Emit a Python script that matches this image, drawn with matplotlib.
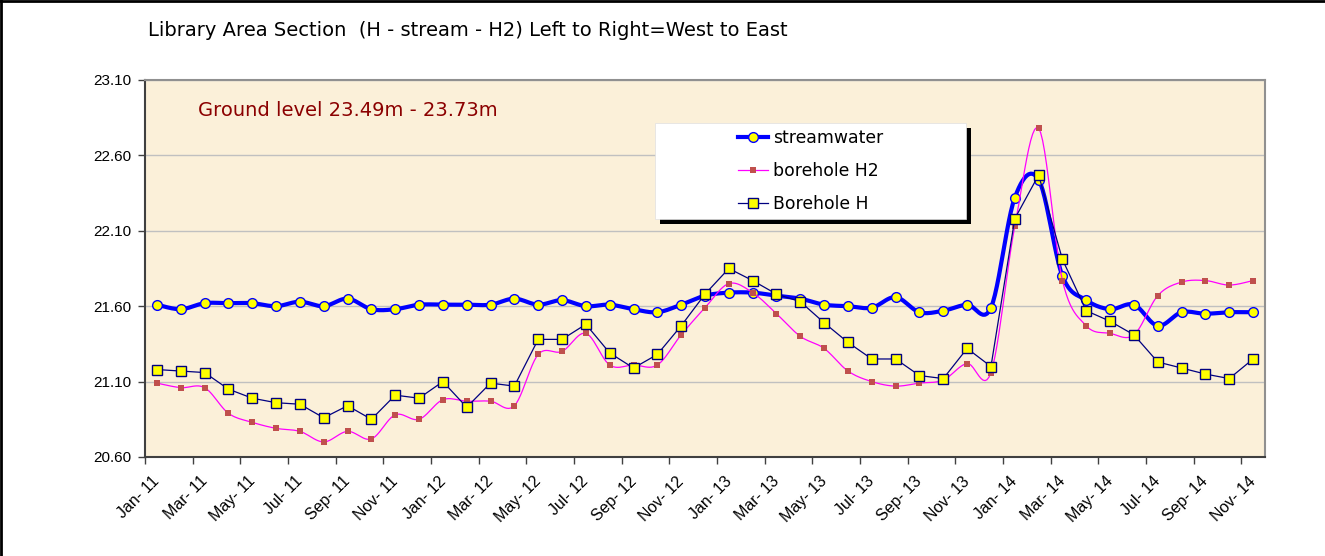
import numpy as np
import matplotlib
matplotlib.use('Agg')
import matplotlib.pyplot as plt
import matplotlib.transforms as mtransforms
from matplotlib.patches import Rectangle
from matplotlib.lines import Line2D

# monthly readings Jan-11 .. Nov-14
stream = [21.61, 21.58, 21.62, 21.62, 21.62, 21.60, 21.63, 21.60, 21.65, 21.58,
          21.58, 21.61, 21.61, 21.61, 21.61, 21.65, 21.61, 21.64, 21.60, 21.61,
          21.58, 21.56, 21.61, 21.67, 21.69, 21.69, 21.67, 21.65, 21.61, 21.60,
          21.59, 21.66, 21.56, 21.57, 21.61, 21.59, 22.32, 22.44, 21.80, 21.64,
          21.58, 21.61, 21.47, 21.56, 21.55, 21.56, 21.56]
bh_h2 = [21.09, 21.06, 21.06, 20.89, 20.83, 20.79, 20.77, 20.70, 20.77, 20.72,
         20.88, 20.85, 20.98, 20.97, 20.97, 20.94, 21.28, 21.30, 21.42, 21.21,
         21.21, 21.21, 21.41, 21.59, 21.75, 21.69, 21.55, 21.40, 21.32, 21.17,
         21.10, 21.07, 21.09, 21.11, 21.22, 21.16, 22.13, 22.78, 21.77, 21.47,
         21.42, 21.41, 21.67, 21.76, 21.77, 21.74, 21.77]
bh_h = [21.18, 21.17, 21.16, 21.05, 20.99, 20.96, 20.95, 20.86, 20.94, 20.85,
        21.01, 20.99, 21.10, 20.93, 21.09, 21.07, 21.38, 21.38, 21.48, 21.29,
        21.19, 21.28, 21.47, 21.68, 21.85, 21.77, 21.68, 21.63, 21.49, 21.36,
        21.25, 21.25, 21.14, 21.12, 21.32, 21.20, 22.18, 22.47, 21.91, 21.57,
        21.50, 21.41, 21.23, 21.19, 21.15, 21.12, 21.25]

tick_labels = ['Jan- 11', 'Mar- 11', 'May- 11', 'Jul- 11', 'Sep- 11', 'Nov- 11',
               'Jan- 12', 'Mar- 12', 'May- 12', 'Jul- 12', 'Sep- 12', 'Nov- 12',
               'Jan- 13', 'Mar- 13', 'May- 13', 'Jul- 13', 'Sep- 13', 'Nov- 13',
               'Jan- 14', 'Mar- 14', 'May- 14', 'Jul- 14', 'Sep- 14', 'Nov- 14']
yticks = [20.60, 21.10, 21.60, 22.10, 22.60, 23.10]


def smooth(y, n=12):
    # bezier through the points, like excel's "smoothed line"
    pts = np.column_stack([np.arange(len(y), dtype=float), np.asarray(y, float)])
    p = np.vstack([pts[0], pts, pts[-1]])
    t = np.linspace(0, 1, n, endpoint=False)[:, None]
    out = []
    for i in range(1, len(p) - 2):
        p0, p1, p2, p3 = p[i - 1], p[i], p[i + 1], p[i + 2]
        c1 = p1 + (p2 - p0) / 6
        c2 = p2 - (p3 - p1) / 6
        out.append((1 - t) ** 3 * p1 + 3 * (1 - t) ** 2 * t * c1
                   + 3 * (1 - t) * t ** 2 * c2 + t ** 3 * p2)
    out.append(pts[-1:])
    out = np.vstack(out)
    return out[:, 0], out[:, 1]


fig = plt.figure(figsize=(13.25, 5.56), dpi=100)
ax = fig.add_axes([145 / 1325, 1 - 457 / 556, 1120 / 1325, 377 / 556])
ax.set_facecolor('#FBF0D9')

x = np.arange(len(stream))

sx, sy = smooth(stream)
ax.plot(sx, sy, color='#0000FF', lw=3.0, zorder=3, solid_capstyle='round')
ax.plot(x, stream, ls='none', marker='o', ms=7, mfc='#FFFF00', mec='#0000FF',
        mew=1.0, zorder=4)

hx, hy = smooth(bh_h2)
ax.plot(hx, hy, color='#FF00FF', lw=0.9, zorder=5)
ax.plot(x, bh_h2, ls='none', marker='s', ms=4.5, mfc='#C0504D', mec='#C0504D',
        mew=0, zorder=6)

ax.plot(x, bh_h, color='#000080', lw=0.9, marker='s', ms=7.5, mfc='#FFFF00',
        mec='#000080', mew=1.0, zorder=7)

ax.set_xlim(-0.5, len(stream) - 0.5)
ax.set_ylim(20.60, 23.10)
ax.set_yticks(yticks)
ax.set_yticklabels(['%.2f' % v for v in yticks], fontfamily='Liberation Sans',
                   fontsize=11)
ax.yaxis.grid(True, color='#C0C0C0', lw=1.0)
ax.set_axisbelow(True)

ax.set_xticks(np.arange(-0.5, len(stream) - 1, 2))
ax.set_xticklabels([])
ax.set_xticks(np.arange(0, len(stream), 2), minor=True)
ax.set_xticklabels(tick_labels, minor=True, rotation=45, ha='right', va='top',
                   rotation_mode='anchor', fontfamily='Liberation Sans', fontsize=11.5)
ax.tick_params(axis='x', which='minor', length=0, pad=12)
ax.tick_params(axis='y', which='major', pad=5)
ax.tick_params(axis='both', which='major', direction='out', length=5,
               width=1, color='#404040')
shift = mtransforms.ScaledTranslation(-5 / 100, 0, fig.dpi_scale_trans)
for lab in ax.get_xticklabels(minor=True):
    lab.set_transform(lab.get_transform() + shift)

for s in ['left', 'bottom']:
    ax.spines[s].set_color('#404040')
    ax.spines[s].set_linewidth(1.5)
for s in ['top', 'right']:
    ax.spines[s].set_color('#909090')
    ax.spines[s].set_linewidth(1.5)

# legend box with hard black shadow
bx0, bx1 = (655 - 145) / 1120, (966 - 145) / 1120
by0, by1 = (457 - 219) / 377, (457 - 123) / 377
dx, dy = 5 / 1120, 5 / 377
ax.add_patch(Rectangle((bx0 + dx, by0 - dy), bx1 - bx0, by1 - by0,
                       transform=ax.transAxes, fc='black', ec='none', zorder=10))
ax.add_patch(Rectangle((bx0, by0), bx1 - bx0, by1 - by0, transform=ax.transAxes,
                       fc='white', ec='#E0E0E0', lw=0.5, zorder=11))
handles = [
    Line2D([], [], color='#0000FF', lw=3.0, marker='o', ms=7, mfc='#FFFF00',
           mec='#0000FF'),
    Line2D([], [], color='#FF00FF', lw=0.9, marker='s', ms=4.5, mfc='#C0504D',
           mec='#C0504D', mew=0),
    Line2D([], [], color='#000080', lw=0.9, marker='s', ms=7.5, mfc='#FFFF00',
           mec='#000080'),
]
leg = ax.legend(handles, ['streamwater', 'borehole H2', 'Borehole H'],
                loc='center', bbox_to_anchor=((bx0 + bx1) / 2, (by0 + by1) / 2),
                frameon=False, fontsize=12.4, handlelength=1.75, handletextpad=0.25,
                labelspacing=0.85)
leg.set_zorder(12)

ax.text((198 - 145) / 1120, (457 - 111) / 377, 'Ground level 23.49m - 23.73m',
        transform=ax.transAxes, color='#8B0000', fontsize=14, va='center',
        ha='left', zorder=12)

fig.text(148 / 1325, 1 - 31 / 556,
         'Library Area Section  (H - stream - H2) Left to Right=West to East',
         fontsize=14, va='center', ha='left')

# outer chart frame (top and left edges)
fig.add_artist(Line2D([0, 1], [0.999, 0.999], transform=fig.transFigure,
                      color='black', lw=2))
fig.add_artist(Line2D([0.0008, 0.0008], [0, 1], transform=fig.transFigure,
                      color='black', lw=2))

fig.savefig('out.png', dpi=100)
